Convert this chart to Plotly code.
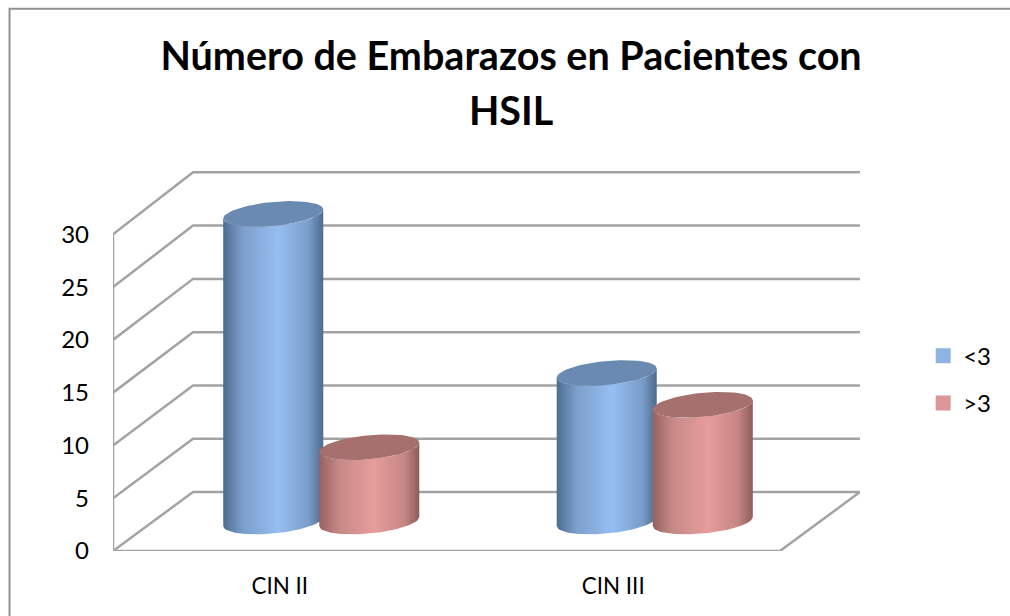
import numpy as np
import plotly.graph_objects as go

categories = ['CIN II', 'CIN III']
series_names = ['<3', '>3']
values_low = [29, 14]
values_high = [7, 11]
y_ticks = [0, 5, 10, 15, 20, 25, 30]

# oblique projection of the depth axis, in axis units
DEPTH_X = 0.24
DEPTH_Y = 5.59
DEPTH_SLOPE = 0.0095
X_MIN, X_MAX = -0.5, 1.5

BAR_SHIFT = 0.0045
BAR_OFFSET = 0.144
BAR_A = 0.15
BAR_B = 1.14
BAR_SHEAR = 0.43

GRID = '#a3a3a3'
BLUE_STOPS = [[0, '#4c6d92'], [0.2, '#7c9fcb'], [0.55, '#96bef2'], [0.85, '#7a9ecb'], [1, '#4f6b8d']]
RED_STOPS = [[0, '#96625f'], [0.2, '#c78987'], [0.55, '#e69d9c'], [0.85, '#c68684'], [1, '#8d5d5a']]


def project(x, y, d):
    x = np.asarray(x, dtype=float)
    y = np.asarray(y, dtype=float)
    return x + d * DEPTH_X, y + d * (DEPTH_Y + y * DEPTH_SLOPE)


def add_wall_line(fig, x, y):
    fig.add_trace(go.Scatter(x=x, y=y, mode='lines', line=dict(color=GRID, width=2.5),
                             showlegend=False, hoverinfo='skip', cliponaxis=False))


def add_cylinder(fig, center, value, stops, cap_color, name):
    cx, base = project(center + BAR_SHIFT, 0, 0.5)
    _, top = project(center + BAR_SHIFT, value, 0.5)
    u = np.linspace(-1, 1, 61)
    lower = BAR_SHEAR * u - BAR_B * np.sqrt(1 - u ** 2)
    xs = cx + BAR_A * u
    body_x = np.concatenate([xs, xs[::-1], xs[:1]])
    body_y = np.concatenate([base + lower, (top + lower)[::-1], (base + lower)[:1]])
    fig.add_trace(go.Scatter(x=body_x, y=body_y, mode='lines', fill='toself',
                             fillgradient=dict(type='horizontal', colorscale=stops),
                             line=dict(width=0), showlegend=False, name=name,
                             hovertemplate='%{text}<extra></extra>', text=[f'{name}: {value}'] * len(body_x)))
    t = np.linspace(0, 2 * np.pi, 91)
    fig.add_trace(go.Scatter(x=cx + BAR_A * np.cos(t),
                             y=top + BAR_SHEAR * np.cos(t) + BAR_B * np.sin(t),
                             mode='lines', fill='toself', fillcolor=cap_color,
                             line=dict(width=0), showlegend=False, hoverinfo='skip'))


fig = go.Figure()

# left wall and back wall
for v in y_ticks[1:]:
    bx, by = project(X_MIN, v, 1)
    ex, ey = project(X_MAX, v, 1)
    add_wall_line(fig, [X_MIN, bx, ex], [v, by, ey])
add_wall_line(fig, [X_MIN, X_MIN], [0, y_ticks[-1]])

# floor
bx, by = project(X_MIN, 0, 1)
ex, ey = project(X_MAX, 0, 1)
add_wall_line(fig, [X_MIN, bx, ex, X_MAX, X_MIN], [0, by, ey, 0, 0])

for i, cat in enumerate(categories):
    add_cylinder(fig, i - BAR_OFFSET, values_low[i], BLUE_STOPS, '#6a8ab1', f'{cat} {series_names[0]}')
    add_cylinder(fig, i + BAR_OFFSET, values_high[i], RED_STOPS, '#a5706d', f'{cat} {series_names[1]}')

for name, color in zip(series_names, ['#8fb4e3', '#dc9695']):
    fig.add_trace(go.Scatter(x=[None], y=[None], mode='markers', name=name, legendgroup=name,
                             marker=dict(symbol='square', size=15, color=color)))

fig.update_layout(
    width=1010,
    height=616,
    margin=dict(l=113, r=150, t=171, b=65),
    paper_bgcolor='white',
    plot_bgcolor='white',
    font=dict(family='Lato', color='black'),
    title=dict(text='<span style="font-size:39.5px">Número de Embarazos en Pacientes con<br>HSIL</span>',
               x=0.506, xanchor='center', y=0.886, yanchor='top',
               font=dict(family='Lato', size=42.3, color='black', weight='bold')),
    legend=dict(x=1.0846, y=0.572, xanchor='left', yanchor='top', font=dict(size=24), tracegroupgap=13,
                bgcolor='rgba(0,0,0,0)', itemclick=False, itemdoubleclick=False),
    xaxis=dict(range=[X_MIN, 1.74], tickvals=[0, 1], ticktext=categories, showgrid=False, zeroline=False,
               showline=False, ticks='', tickfont=dict(size=22.4), ticklabelstandoff=20),
    yaxis=dict(range=[0, 36], tickvals=y_ticks, showgrid=False, zeroline=False, showline=False, ticks='',
               tickfont=dict(size=24), ticklabelstandoff=23),
    shapes=[dict(type='rect', xref='paper', yref='paper', x0=-0.1385, x1=1.22, y0=-0.3, y1=1.427,
                 line=dict(color='#909090', width=2), layer='below')],
)

# drop the page's default body margin so the figure fills the window
fig.write_html('out.html', config={'displayModeBar': False}, post_script="document.body.style.margin = '0';")
